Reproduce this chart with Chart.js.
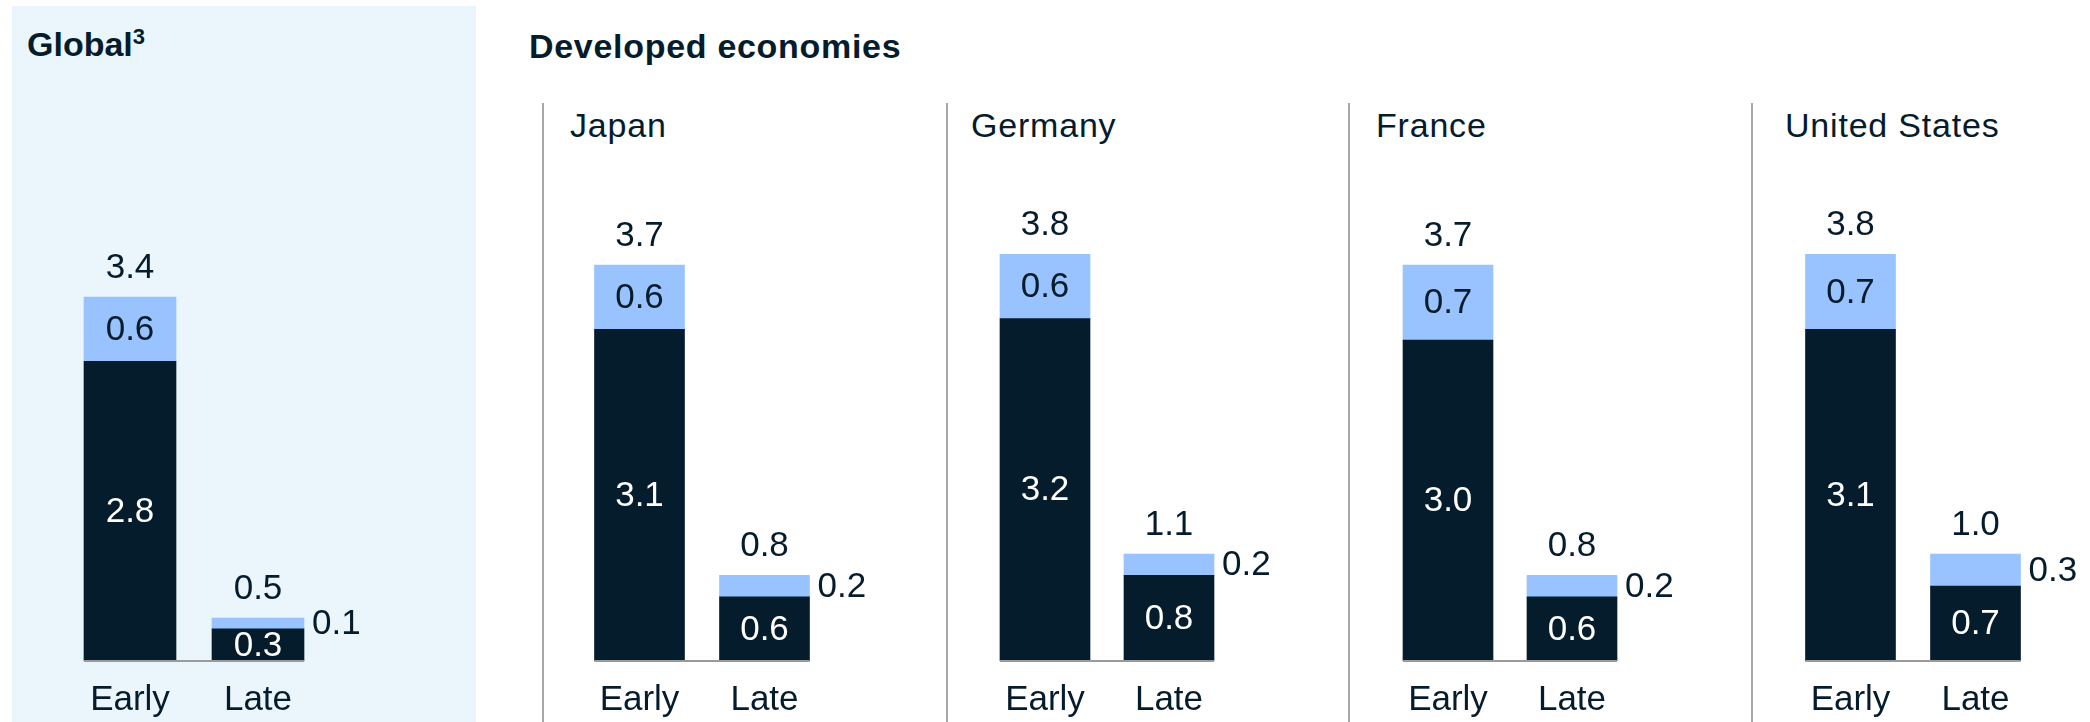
<!DOCTYPE html>
<html>
<head>
<meta charset="utf-8">
<script src="https://cdn.jsdelivr.net/npm/chart.js@4.4.1/dist/chart.umd.min.js"></script>
<style>
  body { margin: 0; background: #fff; }
  #page { position: relative; width: 2090px; height: 722px; overflow: hidden; font-family: "Liberation Sans", Arial, sans-serif; color: #051C2C; }
  .globalBg { position: absolute; left: 12px; top: 6px; width: 464px; height: 716px; background: #EAF6FC; }
  .title { position: absolute; font-weight: bold; font-size: 34px; line-height: 34px; white-space: nowrap; }
  .title sup { font-size: 22px; line-height: 0; vertical-align: 12px; }
  .country { position: absolute; font-size: 34px; line-height: 34px; white-space: nowrap; letter-spacing: 0.8px; }
  .sep { position: absolute; top: 103px; width: 2px; height: 619px; background: #A8A8A8; }
  canvas { position: absolute; top: 0; }
</style>
</head>
<body>
<div id="page">
  <div class="globalBg"></div>
  <div class="title" style="left:27px; top:27px;">Global<sup>3</sup></div>
  <div class="title" style="left:529px; top:29px; letter-spacing:0.7px;">Developed economies</div>
  <div class="sep" style="left:542px;"></div>
  <div class="sep" style="left:946px;"></div>
  <div class="sep" style="left:1348px;"></div>
  <div class="sep" style="left:1751px;"></div>
</div>
<script>
// values per panel: Global, Japan, Germany, France, United States
const panels = ['Global', 'Japan', 'Germany', 'France', 'United States'];
const categories = ['Early', 'Late'];
const darkEarly = [2.8, 3.1, 3.2, 3.0, 3.1];
const lightEarly = [0.6, 0.6, 0.6, 0.7, 0.7];
const darkLate = [0.3, 0.6, 0.8, 0.6, 0.7];
const lightLate = [0.1, 0.2, 0.2, 0.2, 0.3];
const totalEarly = [3.4, 3.7, 3.8, 3.7, 3.8];
const totalLate = [0.5, 0.8, 1.1, 0.8, 1.0];

// layout of each small chart (centre of the Early bar, spacing, bar width)
const earlyCenter = [130, 639, 1045, 1448, 1850];
const pitch = [128, 125, 124, 124, 125];
const barWidth = [92, 90, 90, 90, 90];
const titleLeft = [null, 570, 971, 1376, 1785];

const DARK = '#051C2C';
const LIGHT = '#99C3FF';
const FONT = '"Liberation Sans", Arial, sans-serif';
const VALUE_SIZE = 35;

const labelPlugin = {
  id: 'segLabels',
  afterDatasetsDraw(chart) {
    const ctx = chart.ctx;
    const dark = chart.getDatasetMeta(0).data;
    const light = chart.getDatasetMeta(1).data;
    const totals = chart.options.plugins.segLabels.totals;
    const zeroY = chart.scales.y.getPixelForValue(0);
    ctx.save();
    // baseline under the bars
    ctx.strokeStyle = '#9A9A9A';
    ctx.lineWidth = 2;
    ctx.beginPath();
    ctx.moveTo(dark[0].x - dark[0].width / 2, zeroY);
    ctx.lineTo(dark[1].x + dark[1].width / 2, zeroY);
    ctx.stroke();

    ctx.font = VALUE_SIZE + 'px ' + FONT;
    ctx.textBaseline = 'middle';
    dark.forEach((bar, i) => {
      const d = chart.data.datasets[0].data[i];
      const l = chart.data.datasets[1].data[i];
      ctx.fillStyle = '#FFFFFF';
      ctx.textAlign = 'center';
      ctx.fillText(d.toFixed(1), bar.x, (bar.y + bar.base) / 2 + 1);
      const lb = light[i];
      ctx.fillStyle = DARK;
      if (i === 0) {
        ctx.fillText(l.toFixed(1), lb.x, (lb.y + lb.base) / 2 + 1);
      } else {
        ctx.textAlign = 'left';
        ctx.fillText(l.toFixed(1), lb.x + lb.width / 2 + 8, (lb.y + lb.base) / 2 + 1);
      }
      ctx.textAlign = 'center';
      ctx.fillText(totals[i].toFixed(1), lb.x, lb.y - 29);
    });
    ctx.restore();
  }
};

const page = document.getElementById('page');
panels.forEach((name, p) => {
  if (titleLeft[p] !== null) {
    const t = document.createElement('div');
    t.className = 'country';
    t.style.left = titleLeft[p] + 'px';
    t.style.top = '108px';
    t.textContent = name;
    page.appendChild(t);
  }
  const extra = 90;
  const cv = document.createElement('canvas');
  const w = pitch[p] * 2 + extra;
  cv.width = w;
  cv.height = 739;
  cv.style.left = (earlyCenter[p] - pitch[p] / 2) + 'px';
  cv.style.width = w + 'px';
  cv.style.height = '739px';
  page.appendChild(cv);

  new Chart(cv, {
    type: 'bar',
    data: {
      labels: categories,
      datasets: [
        { label: 'dark', data: [darkEarly[p], darkLate[p]], backgroundColor: DARK, barThickness: barWidth[p] },
        { label: 'light', data: [lightEarly[p], lightLate[p]], backgroundColor: LIGHT, barThickness: barWidth[p] }
      ]
    },
    options: {
      responsive: false,
      animation: false,
      devicePixelRatio: 1,
      layout: { padding: { top: 233, right: extra, left: 0, bottom: 0 } },
      plugins: {
        legend: { display: false },
        tooltip: { enabled: false },
        segLabels: { totals: [totalEarly[p], totalLate[p]] }
      },
      scales: {
        x: {
          stacked: true,
          grid: { display: false, drawTicks: false },
          border: { display: false },
          ticks: { color: DARK, font: { family: FONT, size: VALUE_SIZE }, padding: 18 }
        },
        y: {
          stacked: true,
          display: false,
          min: 0,
          max: 4
        }
      }
    },
    plugins: [labelPlugin]
  });
});
</script>
</body>
</html>
